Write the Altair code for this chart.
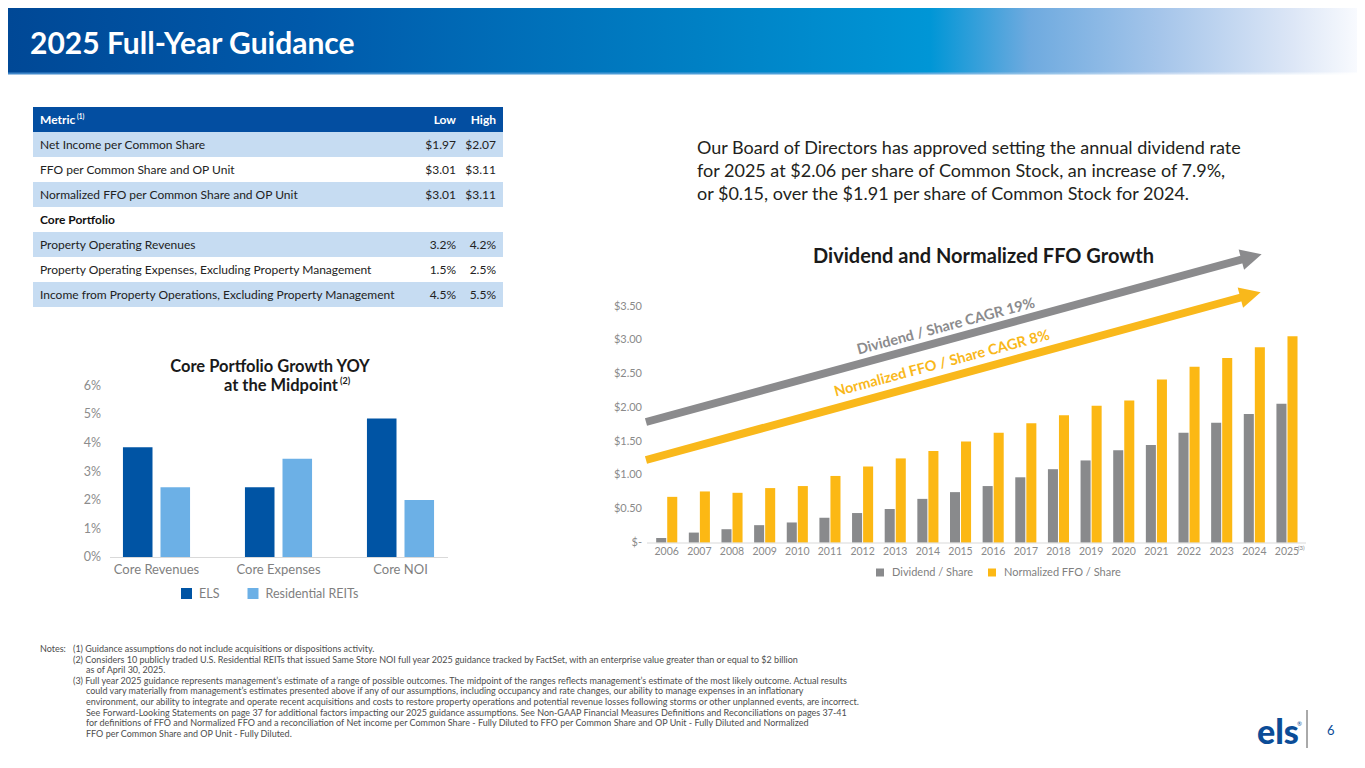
import altair as alt
import pandas as pd

FONT = "Lato"

# ---------------- values ----------------
title_text = "2025 Full-Year Guidance"

table_cols = ["Metric", "Low", "High"]
table_metrics = [
    "Net Income per Common Share",
    "FFO per Common Share and OP Unit",
    "Normalized FFO per Common Share and OP Unit",
    "Core Portfolio",
    "Property Operating Revenues",
    "Property Operating Expenses, Excluding Property Management",
    "Income from Property Operations, Excluding Property Management",
]
table_low = ["$1.97", "$3.01", "$3.01", "", "3.2%", "1.5%", "4.5%"]
table_high = ["$2.07", "$3.11", "$3.11", "", "4.2%", "2.5%", "5.5%"]

core_title = ["Core Portfolio Growth YOY", "at the Midpoint"]
core_categories = ["Core Revenues", "Core Expenses", "Core NOI"]
core_series = ["ELS", "Residential REITs"]
core_els = [3.85, 2.45, 4.85]
core_reits = [2.45, 3.45, 2.0]
core_ticks = [0, 1, 2, 3, 4, 5, 6]
core_tick_labels = ["0%", "1%", "2%", "3%", "4%", "5%", "6%"]

paragraph = [
    "Our Board of Directors has approved setting the annual dividend rate",
    "for 2025 at $2.06 per share of Common Stock, an increase of 7.9%,",
    "or $0.15, over the $1.91 per share of Common Stock for 2024.",
]
growth_title = "Dividend and Normalized FFO Growth"
years = ["2006", "2007", "2008", "2009", "2010", "2011", "2012", "2013", "2014", "2015",
         "2016", "2017", "2018", "2019", "2020", "2021", "2022", "2023", "2024", "2025"]
growth_series = ["Dividend / Share", "Normalized FFO / Share"]
dividend = [0.07, 0.15, 0.20, 0.26, 0.30, 0.37, 0.44, 0.50, 0.65, 0.75,
            0.84, 0.97, 1.09, 1.22, 1.37, 1.45, 1.63, 1.78, 1.91, 2.06]
norm_ffo = [0.68, 0.76, 0.74, 0.81, 0.84, 0.99, 1.13, 1.25, 1.36, 1.50,
            1.63, 1.77, 1.89, 2.03, 2.11, 2.42, 2.61, 2.74, 2.90, 3.06]
usd_ticks = [0, 0.5, 1.0, 1.5, 2.0, 2.5, 3.0, 3.5]
usd_tick_labels = ["$-", "$0.50", "$1.00", "$1.50", "$2.00", "$2.50", "$3.00", "$3.50"]
cagr_labels = ["Dividend / Share CAGR 19%", "Normalized FFO / Share CAGR 8%"]

notes = [
    ("Notes:", "(1) Guidance assumptions do not include acquisitions or dispositions activity."),
    ("", "(2) Considers 10 publicly traded U.S. Residential REITs that issued Same Store NOI full year 2025 guidance tracked by FactSet, with an enterprise value greater than or equal to $2 billion"),
    ("", "as of April 30, 2025."),
    ("", "(3) Full year 2025 guidance represents management\u2019s estimate of a range of possible outcomes. The midpoint of the ranges reflects management\u2019s estimate of the most likely outcome. Actual results"),
    ("", "could vary materially from management\u2019s estimates presented above if any of our assumptions, including occupancy and rate changes, our ability to manage expenses in an inflationary"),
    ("", "environment, our ability to integrate and operate recent acquisitions and costs to restore property operations and potential revenue losses following storms or other unplanned events, are incorrect."),
    ("", "See Forward-Looking Statements on page 37 for additional factors impacting our 2025 guidance assumptions. See Non-GAAP Financial Measures Definitions and Reconciliations on pages 37-41"),
    ("", "for definitions of FFO and Normalized FFO and a reconciliation of Net income per Common Share - Fully Diluted to FFO per Common Share and OP Unit - Fully Diluted and Normalized"),
    ("", "FFO per Common Share and OP Unit - Fully Diluted."),
]

# ---------------- layout / style ----------------
O = 8  # page margin


def px(v):
    return v - O


one = pd.DataFrame({"k": [0]})


def label(txt, x, y, size, color, weight="normal", align="left", baseline="middle", angle=0):
    return alt.Chart(one).mark_text(
        text=txt, font=FONT, fontSize=size, fontWeight=weight, color=color,
        align=align, baseline=baseline, angle=angle % 360,
    ).encode(x=alt.value(px(x)), y=alt.value(px(y)))


def box(x0, y0, x1, y1, color):
    return alt.Chart(one).mark_rect(color=color).encode(
        x=alt.value(px(x0)), x2=alt.value(px(x1)), y=alt.value(px(y0)), y2=alt.value(px(y1)))


def line(x0, y0, x1, y1, color, w):
    return alt.Chart(one).mark_rule(color=color, strokeWidth=w, strokeCap="butt").encode(
        x=alt.value(px(x0)), y=alt.value(px(y0)), x2=alt.value(px(x1)), y2=alt.value(px(y1)))


def head(x, y, color, size, angle):
    return alt.Chart(one).mark_point(
        shape="M-1,-1L1,0L-1,1Z", filled=True, opacity=1, color=color, size=size,
        angle=angle % 360, strokeWidth=0,
    ).encode(x=alt.value(px(x)), y=alt.value(px(y)))


W, H = 1349, 752
layers = []

# ---- header banner ----
hdr_stops = [(8, "#004896"), (312, "#005aab"), (696, "#0080c4"), (930, "#0096d6"),
             (1029, "#6eaadf"), (1160, "#a5c5ea"), (1292, "#dce6f6"), (1357, "#f8fafe")]
grad = alt.LinearGradient(
    gradient="linear", x1=0, x2=1, y1=0, y2=0,
    stops=[alt.GradientStop(offset=(x - 8) / W, color=c) for x, c in hdr_stops])
layers.append(box(8, 8, 1357, 73, grad))
grad2 = alt.LinearGradient(
    gradient="linear", x1=0, x2=1, y1=0, y2=0,
    stops=[alt.GradientStop(offset=0, color="#3f86c9"), alt.GradientStop(offset=0.65, color="#4ea3db"),
           alt.GradientStop(offset=0.85, color="#c4d8f1"), alt.GradientStop(offset=1, color="#ffffff")])
layers.append(box(8, 72.5, 1357, 74.5, grad2))
layers.append(label(title_text, 30, 44.5, 30, "white", weight="bold"))

# ---- guidance table ----
TX0, TX1 = 33, 503
TXT_X, LOW_X, HIGH_X = 40, 456, 496
row_scale = alt.Scale(domain=list(range(8)), range=[px(107), px(307)], paddingInner=0, paddingOuter=0)
df_rows = pd.DataFrame({"row": list(range(1, 8)), "metric": table_metrics,
                        "low": table_low, "high": table_high})
df_head = pd.DataFrame({"row": [0], "metric": [table_cols[0]], "low": [table_cols[1]], "high": [table_cols[2]]})
ry = alt.Y("row:O", scale=row_scale, axis=None)
ryc = alt.Y("row:O", scale=row_scale, axis=None, bandPosition=0.5)

layers.append(alt.Chart(df_head).mark_rect(color="#034ea1").encode(
    y=ry, x=alt.value(px(TX0)), x2=alt.value(px(TX1))))
layers.append(alt.Chart(df_rows).transform_filter("datum.row % 2 == 1").mark_rect(color="#c6dcf2").encode(
    y=ry, x=alt.value(px(TX0)), x2=alt.value(px(TX1))))

tstyle = dict(font=FONT, fontSize=12, baseline="middle")
layers.append(alt.Chart(df_head).mark_text(color="white", fontWeight="bold", align="left", **tstyle).encode(
    y=ryc, x=alt.value(px(TXT_X)), text="metric:N"))
layers.append(label("(1)", 77, 116.5, 6.5, "white", weight="bold"))
layers.append(alt.Chart(df_head).mark_text(color="white", fontWeight="bold", align="right", **tstyle).encode(
    y=ryc, x=alt.value(px(LOW_X)), text="low:N"))
layers.append(alt.Chart(df_head).mark_text(color="white", fontWeight="bold", align="right", **tstyle).encode(
    y=ryc, x=alt.value(px(HIGH_X)), text="high:N"))
layers.append(alt.Chart(df_rows).transform_filter("datum.low != ''").mark_text(
    color="#222222", align="left", **tstyle).encode(y=ryc, x=alt.value(px(TXT_X)), text="metric:N"))
layers.append(alt.Chart(df_rows).transform_filter("datum.low == ''").mark_text(
    color="#111111", fontWeight="bold", align="left", **tstyle).encode(y=ryc, x=alt.value(px(TXT_X)), text="metric:N"))
layers.append(alt.Chart(df_rows).mark_text(color="#222222", align="right", **tstyle).encode(
    y=ryc, x=alt.value(px(LOW_X)), text="low:N"))
layers.append(alt.Chart(df_rows).mark_text(color="#222222", align="right", **tstyle).encode(
    y=ryc, x=alt.value(px(HIGH_X)), text="high:N"))

# ---- core portfolio chart ----
core_colors = ["#0054a4", "#6cb0e6"]
core_x = alt.Scale(domain=core_categories, range=[px(95.5), px(461.5)], paddingInner=0.45, paddingOuter=0.225)
core_y = alt.Scale(domain=[0, 6], range=[px(557.3), px(385.7)], nice=False, zero=True)
df_core = pd.DataFrame({
    "cat": core_categories * 2,
    "series": [core_series[0]] * 3 + [core_series[1]] * 3,
    "value": core_els + core_reits,
})
layers.append(label(core_title[0], 270, 367, 16.5, "#1a1a1a", weight="bold", align="center"))
layers.append(label(core_title[1], 338, 386, 16.5, "#1a1a1a", weight="bold", align="right"))
layers.append(label("(2)", 340, 381, 9, "#1a1a1a", weight="bold"))
layers.append(alt.Chart(pd.DataFrame({"v": core_ticks, "lab": core_tick_labels})).mark_text(
    font=FONT, fontSize=12.5, color="#8c8c8c", align="right", baseline="middle").encode(
    y=alt.Y("v:Q", scale=core_y, axis=None), x=alt.value(px(101)), text="lab:N"))
layers.append(alt.Chart(df_core).mark_bar().encode(
    x=alt.X("cat:N", scale=core_x, axis=None),
    xOffset=alt.XOffset("series:N", scale=alt.Scale(domain=core_series, paddingInner=0.213, paddingOuter=0)),
    y=alt.Y("value:Q", scale=core_y, axis=None),
    color=alt.Color("series:N", scale=alt.Scale(domain=core_series, range=core_colors), legend=None),
))
layers.append(line(110, 557.5, 448, 557.5, "#d9d9d9", 1))
layers.append(alt.Chart(pd.DataFrame({"cat": core_categories})).mark_text(
    font=FONT, fontSize=13, color="#7f7f7f", align="center", baseline="middle").encode(
    x=alt.X("cat:N", scale=core_x, axis=None, bandPosition=0.5), y=alt.value(px(570)), text="cat:N"))
for name, col, sx in zip(core_series, core_colors, [181, 247.5]):
    layers.append(box(sx, 588, sx + 11, 599, col))
    layers.append(label(name, sx + 18, 593.5, 12.5, "#7f7f7f"))

# ---- paragraph ----
for i, ln in enumerate(paragraph):
    layers.append(label(ln, 697, 149 + 23 * i, 18, "#231f20"))

# ---- growth chart ----
g_colors = ["#898a8c", "#fcb814"]
g_x = alt.Scale(domain=years, range=[px(650.4), px(1303.3)], paddingInner=0.354, paddingOuter=0.177)
g_y = alt.Scale(domain=[0, 3.5], range=[px(542.7), px(306.7)], nice=False, zero=True)
df_g = pd.DataFrame({
    "year": years * 2,
    "series": [growth_series[0]] * len(years) + [growth_series[1]] * len(years),
    "value": dividend + norm_ffo,
})
layers.append(label(growth_title, 983.5, 257, 20, "#1a1a1a", weight="bold", align="center"))
layers.append(alt.Chart(pd.DataFrame({"v": usd_ticks, "lab": usd_tick_labels})).mark_text(
    font=FONT, fontSize=11, color="#8a8a8a", align="right", baseline="middle").encode(
    y=alt.Y("v:Q", scale=g_y, axis=None), x=alt.value(px(642)), text="lab:N"))
layers.append(alt.Chart(df_g).mark_bar().encode(
    x=alt.X("year:N", scale=g_x, axis=None),
    xOffset=alt.XOffset("series:N", scale=alt.Scale(domain=growth_series, paddingInner=0.09, paddingOuter=0)),
    y=alt.Y("value:Q", scale=g_y, axis=None),
    color=alt.Color("series:N", scale=alt.Scale(domain=growth_series, range=g_colors), legend=None),
))
layers.append(line(647, 543, 1306, 543, "#d9d9d9", 1))
layers.append(alt.Chart(pd.DataFrame({"year": years})).mark_text(
    font=FONT, fontSize=10.5, color="#8a8a8a", align="center", baseline="middle").encode(
    x=alt.X("year:N", scale=g_x, axis=None, bandPosition=0.5), y=alt.value(px(552)), text="year:N"))
layers.append(label("(3)", 1298, 547.5, 6, "#8a8a8a"))
for name, col, sx in zip(growth_series, g_colors, [876, 988]):
    layers.append(box(sx, 568.5, sx + 8, 576.5, col))
    layers.append(label(name, sx + 16, 572.5, 11, "#7f7f7f"))

# CAGR arrows
ARROW_ANGLE = -15.0
arrow_gray = "#8b8b8d"
arrow_yel = "#f9b81b"
layers.append(line(646, 422, 1251, 257, arrow_gray, 8))
layers.append(head(1251.5, 257, arrow_gray, 440, ARROW_ANGLE))
layers.append(line(646, 460, 1250, 295, arrow_yel, 8))
layers.append(head(1250.5, 295, arrow_yel, 440, ARROW_ANGLE))
layers.append(label(cagr_labels[0], 946, 327, 14.5, arrow_gray, weight="bold", align="center", angle=ARROW_ANGLE))
layers.append(label(cagr_labels[1], 942, 364, 14.5, arrow_yel, weight="bold", align="center", angle=ARROW_ANGLE))

# ---- notes ----
for i, (lead, txt) in enumerate(notes):
    y = 649 + 10.6 * i
    if lead:
        layers.append(label(lead, 40, y, 9, "#4d4d4d"))
    x = 73 if txt.startswith("(") else 86
    layers.append(label(txt, x, y, 9, "#4d4d4d"))

# ---- logo / page number ----
layers.append(label("els", 1257, 734, 34, "#0b4c97", weight=900))
layers.append(label("\u00ae", 1297, 724, 6, "#0b4c97"))
layers.append(line(1307, 710, 1307, 748, "#555555", 1))
layers.append(label("6", 1327, 731, 13, "#0b4c97"))

chart = alt.layer(*layers).resolve_scale(
    x="independent", y="independent", color="independent", xOffset="independent"
).properties(
    width=W, height=H, padding=0, autosize=alt.AutoSizeParams(type="none")
).configure_view(stroke=None)

chart.save("out.html", embed_options={"renderer": "svg", "actions": False})
